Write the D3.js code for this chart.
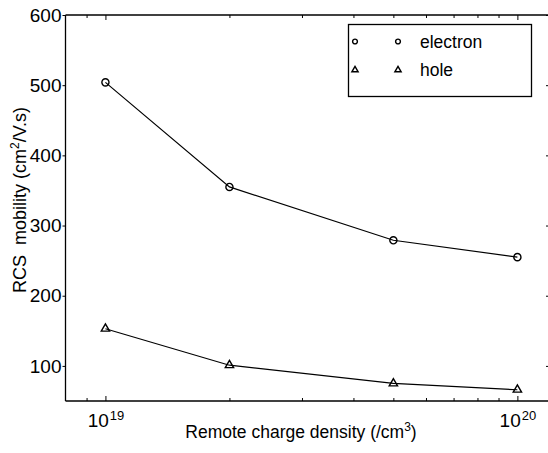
<!DOCTYPE html>
<html>
<head>
<meta charset="utf-8">
<script src="https://cdn.jsdelivr.net/npm/d3@7/dist/d3.min.js"></script>
<style>
  html, body { margin: 0; padding: 0; background: #fff; }
  svg { display: block; font-family: "Liberation Sans", Arial, Helvetica, sans-serif; }
</style>
</head>
<body>
<svg id="chart" width="548" height="453"></svg>
<script>
// Remote charge density (/cm^3)
const density = [1e19, 2e19, 5e19, 1e20];
// RCS-limited mobility (cm^2/V.s)
const electron = [504, 355, 279, 255];
const hole = [153, 101, 75, 66];

const yTicks = [100, 200, 300, 400, 500, 600];
const xMajorTicks = [1e19, 1e20];
const xMinorTicks = [9e18, 2e19, 3e19, 4e19, 5e19, 6e19, 7e19, 8e19, 9e19];

const seriesNames = ["electron", "hole"];

const svg = d3.select("#chart");
const plotLeft = 65.5, plotRight = 550, plotTop = 15, plotBottom = 401;

const x = d3.scaleLog().domain([8e18, 1.2e20]).range([plotLeft, plotRight]);
const y = d3.scaleLinear().domain([50, 600]).range([plotBottom, plotTop]);

// frame
svg.append("g").attr("stroke", "#000").attr("stroke-width", 1.3).attr("fill", "none")
  .call(g => {
    g.append("line").attr("x1", plotLeft).attr("x2", plotRight).attr("y1", plotBottom).attr("y2", plotBottom);
    g.append("line").attr("x1", plotLeft).attr("x2", plotRight).attr("y1", plotTop).attr("y2", plotTop);
    g.append("line").attr("x1", plotLeft).attr("x2", plotLeft).attr("y1", plotTop).attr("y2", plotBottom);
    g.append("line").attr("x1", plotRight).attr("x2", plotRight).attr("y1", plotTop).attr("y2", plotBottom);
  });

function styleAxis(g) {
  g.select(".domain").remove();
  g.selectAll(".tick line").attr("stroke", "#000").attr("stroke-width", 1);
}

// left axis
svg.append("g").attr("transform", `translate(${plotLeft},0)`)
  .call(d3.axisLeft(y).tickValues(yTicks).tickSize(3).tickPadding(1).tickFormat(d3.format("d")))
  .call(styleAxis)
  .call(g => g.selectAll(".tick text").attr("font-size", 19).attr("fill", "#000")
    .attr("font-family", "'Liberation Sans', Arial, sans-serif"));

// right axis ticks
svg.append("g").attr("transform", `translate(${plotRight},0)`)
  .call(d3.axisRight(y).tickValues(yTicks).tickSize(-4).tickFormat(""))
  .call(styleAxis);

// bottom axis: majors with labels 10^n
svg.append("g").attr("transform", `translate(0,${plotBottom})`)
  .call(d3.axisBottom(x).tickValues(xMajorTicks).tickSize(-5).tickPadding(13).tickFormat(() => ""))
  .call(styleAxis)
  .call(g => g.selectAll(".tick text").each(function(d) {
    const t = d3.select(this)
      .attr("font-size", 19).attr("fill", "#000")
      .attr("font-family", "'Liberation Sans', Arial, sans-serif");
    t.append("tspan").text("10");
    t.append("tspan").attr("font-size", 13).attr("dy", "-0.55em").attr("dx", 1)
      .text(Math.round(Math.log10(d)));
  }));
svg.append("g").attr("transform", `translate(0,${plotBottom})`)
  .call(d3.axisBottom(x).tickValues(xMinorTicks).tickSize(-3).tickFormat(""))
  .call(styleAxis);

// top axis ticks
svg.append("g").attr("transform", `translate(0,${plotTop})`)
  .call(d3.axisTop(x).tickValues(xMajorTicks).tickSize(-5).tickFormat(""))
  .call(styleAxis);
svg.append("g").attr("transform", `translate(0,${plotTop})`)
  .call(d3.axisTop(x).tickValues(xMinorTicks).tickSize(-3).tickFormat(""))
  .call(styleAxis);

// axis titles
svg.append("text")
  .attr("x", 301).attr("y", 438)
  .attr("text-anchor", "middle").attr("font-size", 17.5).attr("fill", "#000")
  .call(t => {
    t.append("tspan").text("Remote charge density (/cm");
    t.append("tspan").attr("font-size", 12).attr("dy", -7).text("3");
    t.append("tspan").attr("dy", 7).text(")");
  });

svg.append("text")
  .attr("transform", "translate(26,200) rotate(-90)")
  .attr("text-anchor", "middle").attr("font-size", 18).attr("fill", "#000")
  .attr("xml:space", "preserve")
  .call(t => {
    t.append("tspan").text("RCS  mobility (cm");
    t.append("tspan").attr("font-size", 12).attr("dy", -7).text("2");
    t.append("tspan").attr("dy", 7).text("/V.s)");
  });

// data
const series = [
  { name: seriesNames[0], values: electron, symbol: d3.symbolCircle, size: 40, legendSize: 18 },
  { name: seriesNames[1], values: hole, symbol: d3.symbolTriangle, size: 30, legendSize: 17 }
];

const line = d3.line().x((d, i) => x(density[i])).y(d => y(d));

series.forEach(s => {
  svg.append("path")
    .datum(s.values)
    .attr("d", line)
    .attr("fill", "none")
    .attr("stroke", "#000")
    .attr("stroke-width", 1.2);
  svg.append("g").selectAll("path")
    .data(s.values)
    .join("path")
    .attr("transform", (d, i) => `translate(${x(density[i])},${y(d)})`)
    .attr("d", d3.symbol(s.symbol, s.size))
    .attr("fill", "none")
    .attr("stroke", "#000")
    .attr("stroke-width", 1.4);
});

// legend
const legend = svg.append("g");
legend.append("rect")
  .attr("x", 348.5).attr("y", 24.5).attr("width", 183).attr("height", 72)
  .attr("fill", "#fff").attr("stroke", "#000").attr("stroke-width", 1.3);
series.forEach((s, i) => {
  const cy = 41.5 + i * 28.5;
  [355, 398].forEach(cx => {
    legend.append("path")
      .attr("transform", `translate(${cx},${cy})`)
      .attr("d", d3.symbol(s.symbol, s.legendSize))
      .attr("fill", "none").attr("stroke", "#000").attr("stroke-width", 1.4);
  });
  legend.append("text")
    .attr("x", 420).attr("y", cy + 6)
    .attr("font-size", 17.5).attr("fill", "#000")
    .text(s.name);
});
</script>
</body>
</html>
